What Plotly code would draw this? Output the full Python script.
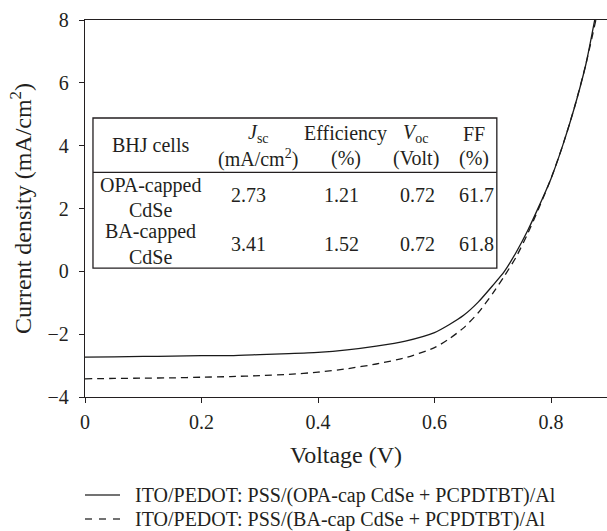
import plotly.graph_objects as go

# ---- data ----
voltage_opa = [0, 0.05, 0.1, 0.15, 0.2, 0.25, 0.3, 0.35, 0.4, 0.45, 0.5, 0.55, 0.6,
               0.625, 0.65, 0.675, 0.7, 0.72, 0.74, 0.76, 0.78, 0.80, 0.82, 0.84, 0.86, 0.875]
current_opa = [-2.73, -2.72, -2.71, -2.70, -2.68, -2.68, -2.65, -2.62, -2.58, -2.50, -2.38, -2.22, -1.95,
               -1.70, -1.40, -0.98, -0.45, 0.0, 0.6, 1.3, 2.1, 2.95, 4.0, 5.2, 6.6, 8.0]

voltage_ba = [0, 0.05, 0.1, 0.15, 0.2, 0.25, 0.3, 0.35, 0.4, 0.45, 0.5, 0.55, 0.6,
              0.625, 0.65, 0.675, 0.7, 0.72, 0.74, 0.76, 0.78, 0.80, 0.82, 0.84, 0.86, 0.877]
current_ba = [-3.42, -3.41, -3.40, -3.39, -3.37, -3.35, -3.32, -3.28, -3.21, -3.10, -2.95, -2.75, -2.43,
              -2.15, -1.80, -1.32, -0.70, -0.15, 0.45, 1.2, 2.05, 2.95, 4.0, 5.2, 6.6, 8.0]

series_names = ["ITO/PEDOT: PSS/(OPA-cap CdSe + PCPDTBT)/Al",
                "ITO/PEDOT: PSS/(BA-cap CdSe + PCPDTBT)/Al"]
series_dash = ["solid", "7px,5px"]

x_tickvals = [0, 0.2, 0.4, 0.6, 0.8]
x_ticktext = ["0", "0.2", "0.4", "0.6", "0.8"]
y_tickvals = [-4, -2, 0, 2, 4, 6, 8]

# inset table content
table_header_top = ["BHJ cells", "<i>J</i><sub>sc</sub>", "Efficiency", "<i>V</i><sub>oc</sub>", "FF"]
table_header_bottom = ["", "(mA/cm<sup>2</sup>)", "(%)", "(Volt)", "(%)"]
row_labels = [["OPA-capped", "CdSe"], ["BA-capped", "CdSe"]]
jsc_values = ["2.73", "3.41"]
eff_values = ["1.21", "1.52"]
voc_values = ["0.72", "0.72"]
ff_values = ["61.7", "61.8"]

FONT = "Liberation Serif, Times New Roman, serif"
TXT = "#231f20"
FS = 20

fig = go.Figure()
fig.add_trace(go.Scatter(x=voltage_opa, y=current_opa, mode="lines", name=series_names[0],
                         showlegend=False,
                         line=dict(color="#1a1a1a", width=1.3, dash=series_dash[0],
                                   shape="spline", smoothing=0.6)))
fig.add_trace(go.Scatter(x=voltage_ba, y=current_ba, mode="lines", name=series_names[1],
                         showlegend=False,
                         line=dict(color="#1a1a1a", width=1.3, dash=series_dash[1],
                                   shape="spline", smoothing=0.6)))

# table frame
fig.add_shape(type="rect", xref="x", yref="y", x0=0.0137, x1=0.707, y0=0.10, y1=4.88,
              line=dict(color="#231f20", width=1.3), fillcolor="white", layer="above")
fig.add_shape(type="line", xref="x", yref="y", x0=0.0137, x1=0.707, y0=3.15, y1=3.15,
              line=dict(color="#231f20", width=1.3), layer="above")

col_x = [0.112, 0.297, 0.4476, 0.568, 0.668]
val_x = [0.112, 0.2815, 0.4407, 0.570, 0.6725]


def txt(x, y, s, xref="x", yref="y", xanchor="center"):
    if not s:
        return
    fig.add_annotation(x=x, y=y, xref=xref, yref=yref, text=s, showarrow=False,
                       font=dict(family=FONT, size=FS, color=TXT), xanchor=xanchor, yanchor="middle")


# header
txt(col_x[0], 4.02, table_header_top[0])
for i in range(1, 5):
    txt(col_x[i], 4.38, table_header_top[i])
    txt(col_x[i], 3.59, table_header_bottom[i])

row_line_y = [[2.72, 1.95], [1.26, 0.47]]
row_val_y = [2.43, 0.87]
for r in range(2):
    txt(val_x[0], row_line_y[r][0], row_labels[r][0])
    txt(val_x[0], row_line_y[r][1], row_labels[r][1])
    txt(val_x[1], row_val_y[r], jsc_values[r])
    txt(val_x[2], row_val_y[r], eff_values[r])
    txt(val_x[3], row_val_y[r], voc_values[r])
    txt(val_x[4], row_val_y[r], ff_values[r])

# legend below the plot (paper coordinates: plot spans x 85..607 px, y 20..397 px)
PW, PH = 522.0, 377.0
legend_rows_px = [495, 519]
for k in range(2):
    yp = (397 - legend_rows_px[k]) / PH
    fig.add_shape(type="line", xref="paper", yref="paper",
                  x0=0, x1=35 / PW, y0=yp, y1=yp,
                  line=dict(color="#444444", width=1.3,
                            dash="solid" if k == 0 else "7px,7px"))
    txt(48 / PW, yp, series_names[k], xref="paper", yref="paper", xanchor="left")

fig.update_layout(
    width=607, height=531,
    margin=dict(l=85, r=0, t=20, b=134),
    paper_bgcolor="white", plot_bgcolor="white",
    font=dict(family=FONT, size=FS, color=TXT),
    showlegend=False,
    xaxis=dict(range=[0, (607 - 85) / 582.5], tickvals=x_tickvals, ticktext=x_ticktext,
               ticks="outside", ticklen=5, tickwidth=1.2, tickcolor="#231f20",
               showline=True, linecolor="#231f20", linewidth=1.3, mirror=True,
               showgrid=False, zeroline=False, ticklabelstandoff=2,
               title=dict(text="Voltage (V)", standoff=14)),
    yaxis=dict(range=[-4, 8], tickvals=y_tickvals,
               ticks="outside", ticklen=5, tickwidth=1.2, tickcolor="#231f20",
               showline=True, linecolor="#231f20", linewidth=1.3, mirror=False,
               showgrid=False, zeroline=False, ticklabelstandoff=6,
               title=dict(text="Current density (mA/cm<sup>2</sup>)", standoff=9)),
)

fig.write_html("out.html")
